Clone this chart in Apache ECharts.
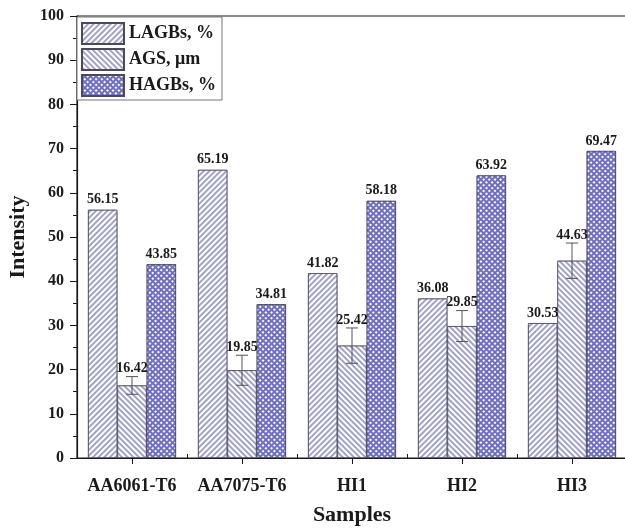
<!DOCTYPE html>
<html>
<head>
<meta charset="utf-8">
<script src="https://cdn.jsdelivr.net/npm/echarts@6/dist/echarts.min.js"></script>
<style>
  html, body { margin: 0; padding: 0; background: #fff; }
  #chart { width: 625px; height: 529px; }
</style>
</head>
<body>
<div id="chart"></div>
<script>
// Grain boundary statistics per sample
const samples = ['AA6061-T6', 'AA7075-T6', 'HI1', 'HI2', 'HI3'];
const lagbs = [56.15, 65.19, 41.82, 36.08, 30.53];
const ags = [16.42, 19.85, 25.42, 29.85, 44.63];
const agsErr = [2.0, 3.4, 4.0, 3.5, 4.0];
const hagbs = [43.85, 34.81, 58.18, 63.92, 69.47];
const seriesNames = ['LAGBs, %', 'AGS, \u03bcm', 'HAGBs, %'];

const FONT = '"Liberation Serif", "Times New Roman", serif';
const INK = '#1a1a1a';

const hatch = (rot) => ({
  symbol: 'rect',
  symbolSize: 1,
  color: '#a2a2cc',
  backgroundColor: '#ffffff',
  dashArrayX: [1, 0],
  dashArrayY: [1.4, 2.0],
  rotation: rot
});

const checker = {
  symbol: 'rect',
  symbolSize: 1,
  color: '#ffffff',
  backgroundColor: '#6e6ec4',
  dashArrayX: [1.6, 1.4],
  dashArrayY: [1.6, 1.4],
  rotation: Math.PI / 4
};

const valueLabel = {
  show: true,
  position: 'top',
  distance: 3,
  color: INK,
  fontFamily: FONT,
  fontWeight: 'bold',
  fontSize: 14,
  formatter: p => Number(p.value).toFixed(2)
};

const barBorder = { borderColor: '#4a4a5a', borderWidth: 0.8 };

const chart = echarts.init(document.getElementById('chart'), null, { renderer: 'canvas' });

chart.setOption({
  backgroundColor: '#ffffff',
  animation: false,
  grid: {
    left: 77, right: -2, top: 16, bottom: 71,
    outerBoundsMode: 'none',
    containLabel: false,
    show: true, borderColor: INK, borderWidth: 1.2, backgroundColor: 'transparent'
  },
  legend: {
    data: seriesNames,
    orient: 'vertical',
    left: 77, top: 17,
    itemWidth: 42, itemHeight: 21, itemGap: 3,
    padding: [5, 6, 3, 4],
    backgroundColor: '#ffffff',
    borderColor: '#777',
    borderWidth: 1,
    icon: 'rect',
    textStyle: { fontFamily: FONT, fontWeight: 'bold', fontSize: 18, color: INK }
  },
  xAxis: [{
    type: 'category',
    data: samples,
    position: 'bottom',
    name: 'Samples',
    nameLocation: 'middle',
    nameGap: 46,
    nameTextStyle: { fontFamily: FONT, fontWeight: 'bold', fontSize: 22, color: INK },
    axisLine: { lineStyle: { color: INK, width: 1.2 } },
    axisTick: { show: true, alignWithLabel: true, length: 6, lineStyle: { color: INK } },
    axisLabel: { interval: 0, margin: 19, fontFamily: FONT, fontWeight: 'bold', fontSize: 18, color: INK }
  }, {
    type: 'category',
    data: samples,
    position: 'bottom',
    axisLine: { show: false },
    axisTick: { show: true, inside: true, length: 4, lineStyle: { color: INK } },
    axisLabel: { show: false }
  }],
  yAxis: {
    type: 'value',
    min: 0, max: 100, interval: 10,
    name: 'Intensity',
    nameLocation: 'middle',
    nameGap: 48,
    nameTextStyle: { fontFamily: FONT, fontWeight: 'bold', fontSize: 22, color: INK },
    axisLine: { show: true, lineStyle: { color: INK, width: 1.2 } },
    axisTick: { show: true, length: 7, lineStyle: { color: INK } },
    minorTick: { show: true, splitNumber: 2, length: 4, lineStyle: { color: INK } },
    splitLine: { show: false },
    axisLabel: { margin: 13, fontFamily: FONT, fontWeight: 'bold', fontSize: 16, color: INK }
  },
  series: [{
    name: seriesNames[0],
    type: 'bar',
    data: lagbs,
    barGap: '0%',
    barCategoryGap: '20%',
    itemStyle: Object.assign({ color: '#ffffff', decal: hatch(-Math.PI / 4) }, barBorder),
    label: valueLabel
  }, {
    name: seriesNames[1],
    type: 'bar',
    data: ags,
    itemStyle: Object.assign({ color: '#ffffff', decal: hatch(Math.PI / 4) }, barBorder)
  }, {
    name: seriesNames[2],
    type: 'bar',
    data: hagbs,
    itemStyle: Object.assign({ color: '#6e6ec4', decal: checker }, barBorder),
    label: valueLabel
  }, {
    // error bars and value labels for the grain size series
    name: 'AGS error',
    type: 'custom',
    data: ags.map((v, i) => [i, v, agsErr[i]]),
    z: 10,
    renderItem: (params, api) => {
      const i = api.value(0), v = api.value(1), e = api.value(2);
      const top = api.coord([i, v + e]);
      const bot = api.coord([i, v - e]);
      const cap = 6;
      const ls = { stroke: '#555', lineWidth: 1 };
      return {
        type: 'group',
        children: [
          { type: 'line', shape: { x1: top[0], y1: top[1], x2: bot[0], y2: bot[1] }, style: ls },
          { type: 'line', shape: { x1: top[0] - cap, y1: top[1], x2: top[0] + cap, y2: top[1] }, style: ls },
          { type: 'line', shape: { x1: bot[0] - cap, y1: bot[1], x2: bot[0] + cap, y2: bot[1] }, style: ls },
          { type: 'text', x: top[0], y: top[1] - 1,
            style: { text: v.toFixed(2), fill: INK, font: 'bold 14px ' + FONT,
                     align: 'center', verticalAlign: 'bottom' } }
        ]
      };
    }
  }]
});
</script>
</body>
</html>
